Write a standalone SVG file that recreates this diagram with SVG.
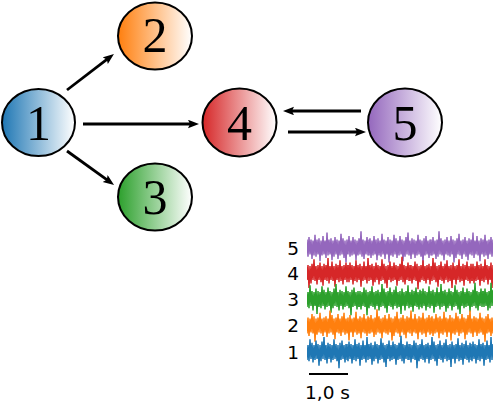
<svg xmlns="http://www.w3.org/2000/svg" xmlns:xlink="http://www.w3.org/1999/xlink" width="493" height="403" viewBox="0 0 493 403">
<style>
.node{stroke:#000;stroke-width:2}
.lbl{font-family:"Liberation Serif","Times New Roman",serif;font-size:50px;fill:#000;text-anchor:middle}
.edge{stroke:#000;stroke-width:2.8;fill:none;marker-end:url(#ah)}
.tl{font-family:"DejaVu Sans",sans-serif;font-size:18.5px;fill:#000;text-anchor:end}
.nz{fill:none;stroke-width:1.5;stroke-linejoin:miter}
</style>
<defs>
<marker id="ah" markerUnits="userSpaceOnUse" markerWidth="12" markerHeight="10" refX="5" refY="4.25" orient="auto">
<path d="M0,0 L11,4.25 L0,8.5 L2,4.25 z" fill="#000"/>
</marker>
<linearGradient id="g1" x1="0" x2="1" y1="0" y2="0"><stop offset="0" stop-color="#1f77b4"/><stop offset="1" stop-color="#ffffff"/></linearGradient>
<linearGradient id="g2" x1="0" x2="1" y1="0" y2="0"><stop offset="0" stop-color="#ff7f0e"/><stop offset="1" stop-color="#ffffff"/></linearGradient>
<linearGradient id="g3" x1="0" x2="1" y1="0" y2="0"><stop offset="0" stop-color="#2ca02c"/><stop offset="1" stop-color="#ffffff"/></linearGradient>
<linearGradient id="g4" x1="0" x2="1" y1="0" y2="0"><stop offset="0" stop-color="#d62728"/><stop offset="1" stop-color="#ffffff"/></linearGradient>
<linearGradient id="g5" x1="0" x2="1" y1="0" y2="0"><stop offset="0" stop-color="#9467bd"/><stop offset="1" stop-color="#ffffff"/></linearGradient>
<clipPath id="tc"><rect x="307" y="0" width="186" height="403"/></clipPath>
<path id="nz" d="M0,-7 L1,8 L2,-9 L3,6 L4,-7 L5,10 L6,-6 L7,7 L8,-11 L9,8 L10,-7 L11,6 L12,-8 L13,12 L14,-6 L15,7 L16,-10 L17,6 L18,-6 L19,9 L20,-13 L21,7 L22,-7 L23,6 L24,-8 L25,11 L26,-6 L27,8 L28,-9 L29,6 L30,-7 L31,10 L32,-6 L33,7 L34,-12 L35,6 L36,-8 L37,9 L38,-6 L39,13 L40,-7 L41,6 L42,-10 L43,8 L44,-6 L45,7 L46,-9 L47,6 L48,-7 L49,11 L50,-6 L51,7 L52,-8 L53,6 L54,-14 L55,8 L56,-7 L57,10 L58,-6 L59,6 L60,-9 L61,7 L62,-7"/>
</defs>
<rect width="493" height="403" fill="#fff"/>

<g id="connectors">
<line class="edge" x1="67" y1="90" x2="109.2" y2="57.6"/>
<line class="edge" x1="67" y1="151" x2="109.2" y2="181.4"/>
<line class="edge" x1="83" y1="124" x2="193" y2="124"/>
<line class="edge" x1="361" y1="111" x2="289" y2="111"/>
<line class="edge" x1="288" y1="132" x2="360" y2="132"/>
</g>

<g id="node1"><ellipse class="node" cx="38.5" cy="122.5" rx="36.5" ry="33.5" fill="url(#g1)"/><text class="lbl" x="38.5" y="140">1</text></g>
<g id="node2"><ellipse class="node" cx="155" cy="36" rx="37" ry="33.5" fill="url(#g2)"/><text class="lbl" x="155" y="52">2</text></g>
<g id="node3"><ellipse class="node" cx="155" cy="197" rx="37" ry="33.5" fill="url(#g3)"/><text class="lbl" x="155" y="214">3</text></g>
<g id="node4"><ellipse class="node" cx="239.5" cy="122.5" rx="37" ry="34" fill="url(#g4)"/><text class="lbl" x="239.5" y="140">4</text></g>
<g id="node5"><ellipse class="node" cx="405" cy="122.5" rx="37" ry="34" fill="url(#g5)"/><text class="lbl" x="405" y="140">5</text></g>

<g id="traces" clip-path="url(#tc)">
<g stroke="#9467bd" fill="#9467bd" class="nz">
<rect x="307" y="241" width="186" height="13" stroke="none"/>
<use xlink:href="#nz" transform="translate(307,247.5) scale(1,1.15)"/>
<use xlink:href="#nz" transform="translate(369,247.5) scale(1,-1.15)"/>
<use xlink:href="#nz" transform="translate(493,247.5) scale(-1,1.15)"/>
</g>
<g stroke="#d62728" fill="#d62728" class="nz">
<rect x="307" y="266.5" width="186" height="13" stroke="none"/>
<use xlink:href="#nz" transform="translate(348,273) scale(-1,1.15)"/>
<use xlink:href="#nz" transform="translate(348,273) scale(1,1.15)"/>
<use xlink:href="#nz" transform="translate(472,273) scale(-1,-1.15)"/>
<use xlink:href="#nz" transform="translate(472,273) scale(1,-1.15)"/>
</g>
<g stroke="#2ca02c" fill="#2ca02c" class="nz">
<rect x="307" y="292.5" width="186" height="13" stroke="none"/>
<use xlink:href="#nz" transform="translate(297,299) scale(1,-1.15)"/>
<use xlink:href="#nz" transform="translate(421,299) scale(-1,-1.15)"/>
<use xlink:href="#nz" transform="translate(421,299) scale(1,1.15)"/>
<use xlink:href="#nz" transform="translate(545,299) scale(-1,1.15)"/>
</g>
<g stroke="#ff7f0e" fill="#ff7f0e" class="nz">
<rect x="307" y="319" width="186" height="13" stroke="none"/>
<use xlink:href="#nz" transform="translate(369,325.5) scale(-1,-1.15)"/>
<use xlink:href="#nz" transform="translate(431,325.5) scale(-1,1.15)"/>
<use xlink:href="#nz" transform="translate(431,325.5) scale(1,-1.15)"/>
</g>
<g stroke="#1f77b4" fill="#1f77b4" class="nz">
<rect x="307" y="345.5" width="186" height="13" stroke="none"/>
<use xlink:href="#nz" transform="translate(285,352) scale(1,-1.15)"/>
<use xlink:href="#nz" transform="translate(347,352) scale(1,1.15)"/>
<use xlink:href="#nz" transform="translate(471,352) scale(-1,-1.15)"/>
<use xlink:href="#nz" transform="translate(471,352) scale(1,1.15)"/>
</g>
</g>

<g id="trace-labels">
<text class="tl" x="299" y="255">5</text>
<text class="tl" x="299" y="280">4</text>
<text class="tl" x="299" y="306">3</text>
<text class="tl" x="299" y="332">2</text>
<text class="tl" x="299" y="359">1</text>
</g>
<g id="scalebar">
<line x1="309" y1="374" x2="348" y2="374" stroke="#000" stroke-width="2"/>
<text x="305" y="399" font-family="DejaVu Sans, sans-serif" font-size="18.5" fill="#000">1,0 s</text>
</g>
</svg>
